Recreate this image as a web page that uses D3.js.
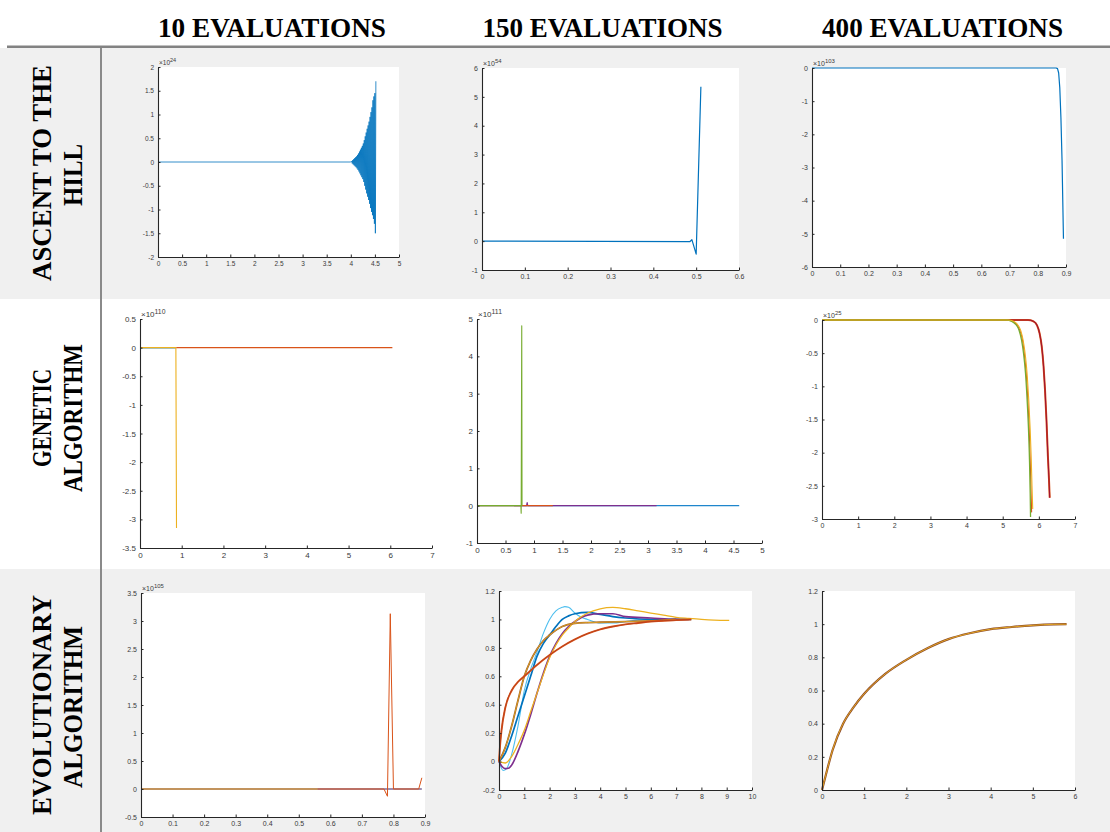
<!DOCTYPE html>
<html>
<head>
<meta charset="utf-8">
<script src="https://cdn.jsdelivr.net/npm/d3@7"></script>
<style>
  body { margin: 0; background: #fff; }
</style>
</head>
<body>
<div id="chart"></div>
<script>
// headers
const colHeaders = ["10 EVALUATIONS", "150 EVALUATIONS", "400 EVALUATIONS"];
const rowHeaders = [["ASCENT TO THE", "HILL"], ["GENETIC", "ALGORITHM"], ["EVOLUTIONARY", "ALGORITHM"]];

// tick values per panel
const ticksHill10X = [0, 0.5, 1, 1.5, 2, 2.5, 3, 3.5, 4, 4.5, 5];
const ticksHill10Y = [-2, -1.5, -1, -0.5, 0, 0.5, 1, 1.5, 2];
const ticksHill150X = [0, 0.1, 0.2, 0.3, 0.4, 0.5, 0.6];
const ticksHill150Y = [-1, 0, 1, 2, 3, 4, 5, 6];
const ticksHill400X = [0, 0.1, 0.2, 0.3, 0.4, 0.5, 0.6, 0.7, 0.8, 0.9];
const ticksHill400Y = [-6, -5, -4, -3, -2, -1, 0];
const ticksGa10X = [0, 1, 2, 3, 4, 5, 6, 7];
const ticksGa10Y = [-3.5, -3, -2.5, -2, -1.5, -1, -0.5, 0, 0.5];
const ticksGa150X = [0, 0.5, 1, 1.5, 2, 2.5, 3, 3.5, 4, 4.5, 5];
const ticksGa150Y = [-1, 0, 1, 2, 3, 4, 5];
const ticksGa400X = [0, 1, 2, 3, 4, 5, 6, 7];
const ticksGa400Y = [-3, -2.5, -2, -1.5, -1, -0.5, 0];
const ticksEa10X = [0, 0.1, 0.2, 0.3, 0.4, 0.5, 0.6, 0.7, 0.8, 0.9];
const ticksEa10Y = [-0.5, 0, 0.5, 1, 1.5, 2, 2.5, 3, 3.5];
const ticksEa150X = [0, 1, 2, 3, 4, 5, 6, 7, 8, 9, 10];
const ticksEa150Y = [-0.2, 0, 0.2, 0.4, 0.6, 0.8, 1, 1.2];
const ticksEa400X = [0, 1, 2, 3, 4, 5, 6];
const ticksEa400Y = [0, 0.2, 0.4, 0.6, 0.8, 1, 1.2];

// ascent to the hill, 10 evaluations (x10^24), oscillation read point by point
const hill10 = [[0, 0], [4.0, 0],
  [4.02, 0.02], [4.03, -0.03], [4.04, 0.04], [4.05, -0.05], [4.06, 0.06],
  [4.07, -0.07], [4.08, 0.08], [4.09, -0.09], [4.10, 0.1], [4.11, -0.11],
  [4.12, 0.12], [4.13, -0.135], [4.14, 0.15], [4.15, -0.165], [4.16, 0.18], [4.17, -0.2],
  [4.18, 0.22], [4.19, -0.24], [4.20, 0.26], [4.21, -0.28], [4.22, 0.3], [4.23, -0.32],
  [4.24, 0.34], [4.25, -0.36], [4.26, 0.39], [4.27, -0.42], [4.28, 0.46], [4.29, -0.5],
  [4.30, 0.54], [4.31, -0.58], [4.32, 0.62], [4.33, -0.66], [4.34, 0.7], [4.35, -0.73],
  [4.36, 0.77], [4.37, -0.8], [4.38, 0.85], [4.39, -0.88], [4.40, 0.95], [4.41, -0.97],
  [4.42, 1.05], [4.43, -1.05], [4.44, 1.15], [4.45, -1.12], [4.46, 1.3], [4.47, -1.2],
  [4.48, 1.38], [4.49, -1.3], [4.50, 1.45], [4.51, -1.5], [4.52, 1.7]];
// 150 evaluations (x10^54)
const hill150 = [[0, 0], [0.485, -0.02], [0.49, 0.05], [0.5, -0.45], [0.511, 5.35]];
// 400 evaluations (x10^103)
const hill400 = [[0, 0], [0.865, 0], [0.87, -0.02], [0.874, -0.15], [0.878, -0.6],
  [0.882, -1.5], [0.886, -2.8], [0.891, -5.15]];

// genetic algorithm, 10 evaluations (x10^110)
const ga10Blue = [[0, -0.01], [0.86, -0.01]];
const ga10Yellow = [[0, 0], [0.86, 0], [0.875, -3.15]];
const ga10Orange = [[0.87, 0], [6.05, 0]];
// 150 evaluations (x10^111)
const ga150Blue = [[0, 0], [4.6, 0]];
const ga150Purple = [[0.65, 0], [0.87, 0], [0.88, 0.08], [0.89, 0], [3.15, 0]];
const ga150Red = [[0, 0], [1.33, 0]];
const ga150Green = [[0, 0], [0.77, 0], [0.775, -0.2], [0.785, 4.82], [0.79, 0]];
// 400 evaluations (x10^25)
const ga400Green = [[0, 0], [5.1, 0], [5.25, -0.02], [5.35, -0.06], [5.45, -0.15], [5.52, -0.3],
  [5.58, -0.52], [5.63, -0.8], [5.67, -1.15], [5.71, -1.6], [5.74, -2.1], [5.76, -2.6], [5.77, -2.97]];
const ga400Orange = [[0, 0], [5.12, 0], [5.27, -0.02], [5.37, -0.06], [5.47, -0.15], [5.55, -0.31],
  [5.6, -0.52], [5.65, -0.8], [5.69, -1.15], [5.73, -1.6], [5.76, -2.1], [5.78, -2.5], [5.8, -2.9]];
const ga400Yellow = [[0, 0], [5.15, 0], [5.3, -0.02], [5.4, -0.06], [5.5, -0.16], [5.57, -0.32],
  [5.63, -0.55], [5.68, -0.85], [5.72, -1.2], [5.76, -1.65], [5.79, -2.1], [5.81, -2.5], [5.83, -2.85]];
const ga400Red = [[0, 0], [5.7, 0], [5.85, -0.02], [5.95, -0.08], [6.02, -0.2], [6.08, -0.4],
  [6.13, -0.7], [6.17, -1.05], [6.21, -1.5], [6.25, -2.05], [6.28, -2.4], [6.3, -2.68]];

// evolutionary algorithm, 10 evaluations (x10^105)
const ea10Purple = [[0, 0], [0.89, 0]];
const ea10Yellow = [[0, 0], [0.56, 0]];
const ea10Red = [[0.56, 0], [0.77, 0], [0.781, -0.13], [0.79, 3.13], [0.8, 0], [0.88, 0], [0.89, 0.2]];
// 150 evaluations
const ea150LightBlue = [[0, 0], [0.08, -0.04], [0.16, -0.063], [0.3, -0.05], [0.5, 0.05], [0.75, 0.25],
  [1, 0.5], [1.25, 0.65], [1.5, 0.77], [1.75, 0.9], [2, 1.0], [2.25, 1.06], [2.5, 1.085], [2.6, 1.09],
  [2.75, 1.085], [3, 1.045], [3.25, 1.015], [3.5, 1.0], [4, 0.975], [4.5, 0.975], [5, 0.985],
  [5.5, 0.995], [6, 1.0], [7, 1.0]];
const ea150Blue = [[0, 0], [0.25, 0.06], [0.5, 0.18], [0.75, 0.32], [1, 0.46], [1.25, 0.6], [1.5, 0.74],
  [1.75, 0.83], [2, 0.89], [2.25, 0.95], [2.5, 1.0], [2.75, 1.025], [3, 1.04], [3.5, 1.05], [4, 1.035],
  [4.5, 1.02], [5, 1.01], [6, 1.0], [7.6, 1.0]];
const ea150Purple = [[0, 0], [0.12, -0.035], [0.25, -0.05], [0.4, -0.045], [0.5, -0.025], [0.75, 0.07],
  [1, 0.19], [1.25, 0.33], [1.5, 0.48], [1.75, 0.62], [2, 0.74], [2.25, 0.83], [2.5, 0.9], [2.75, 0.95],
  [3, 0.985], [3.5, 1.03], [4, 1.04], [4.5, 1.04], [5, 1.02], [6, 1.01], [7, 1.0], [7.5, 1.0]];
const ea150Yellow = [[0, 0], [0.25, -0.01], [0.5, 0.035], [0.75, 0.12], [1, 0.22], [1.25, 0.35],
  [1.5, 0.48], [1.75, 0.61], [2, 0.73], [2.25, 0.82], [2.5, 0.89], [2.75, 0.94], [3, 0.985], [3.5, 1.045],
  [4, 1.075], [4.5, 1.085], [5, 1.075], [5.5, 1.06], [6, 1.045], [6.5, 1.03], [7, 1.015], [7.5, 1.007],
  [8, 1.0], [8.5, 0.995], [9.1, 0.993]];
const ea150Orange = [[0, 0], [0.25, 0.1], [0.5, 0.25], [0.75, 0.43], [1, 0.6], [1.25, 0.71], [1.5, 0.79],
  [1.75, 0.85], [2, 0.89], [2.5, 0.95], [3, 0.972], [3.5, 0.978], [4, 0.98], [5, 0.985], [6, 0.99], [7, 1.0]];
const ea150Red = [[0, 0], [0.05, 0.13], [0.1, 0.22], [0.25, 0.38], [0.5, 0.5], [0.75, 0.56], [1, 0.6],
  [1.5, 0.68], [2, 0.75], [2.5, 0.81], [3, 0.86], [3.5, 0.9], [4, 0.93], [4.5, 0.95], [5, 0.965],
  [5.5, 0.975], [6, 0.985], [7, 0.995], [7.6, 1.0]];
// 400 evaluations
const ea400 = [[0, 0], [0.1, 0.1], [0.25, 0.24], [0.5, 0.4], [0.75, 0.5], [1, 0.58], [1.5, 0.7],
  [2, 0.785], [2.5, 0.855], [3, 0.91], [3.5, 0.945], [4, 0.97], [4.5, 0.983], [5, 0.993], [5.5, 0.999], [5.8, 1.0]];

// matlab default line colours
const C = {blue: "#0072BD", orange: "#D95319", yellow: "#EDB120", purple: "#7E2F8E",
  green: "#77AC30", lightBlue: "#4DBEEE", red: "#A2142F"};

const W = 1110, H = 832;
const svg = d3.select("#chart").append("svg")
  .attr("width", W)
  .attr("height", H);

// row bands of the table
const bands = [[48, 299, "#f0f0f0"], [299, 569, "#ffffff"], [569, 832, "#f0f0f0"]];
svg.selectAll(".band")
  .data(bands)
  .enter()
  .append("rect")
  .attr("class", "band")
  .attr("x", 0)
  .attr("y", d => d[0])
  .attr("width", W)
  .attr("height", d => d[1] - d[0])
  .attr("fill", d => d[2]);

// table rules
svg.append("rect").attr("x", 7).attr("y", 45.5).attr("width", W - 7).attr("height", 2.5).attr("fill", "#828282");
svg.append("rect").attr("x", 100).attr("y", 48).attr("width", 2).attr("height", H - 48).attr("fill", "#8a8a8a");

const serif = "'Liberation Serif', 'Times New Roman', serif";

// column headers (condensed like the original)
const headX = [272, 602.5, 942.5];
const headLen = [228, 240, 241];
svg.selectAll(".colHead")
  .data(colHeaders)
  .enter()
  .append("text")
  .attr("class", "colHead")
  .attr("x", (d, i) => headX[i])
  .attr("y", 37)
  .attr("text-anchor", "middle")
  .attr("font-family", serif)
  .attr("font-weight", "bold")
  .attr("font-size", 27.5)
  .attr("textLength", (d, i) => headLen[i])
  .attr("lengthAdjust", "spacingAndGlyphs")
  .attr("fill", "#000")
  .text(d => d);

// row headers, rotated
const rowMid = [[173, 175], [418, 418], [705, 707]];
const rowLen = [[216, 62], [98, 148], [220, 162]];
rowHeaders.forEach((lines, r) => {
  lines.forEach((t, k) => {
    svg.append("text")
      .attr("transform", `translate(${k === 0 ? 51 : 82},${rowMid[r][k]}) rotate(-90)`)
      .attr("text-anchor", "middle")
      .attr("font-family", serif)
      .attr("font-weight", "bold")
      .attr("font-size", 26.5)
      .attr("textLength", rowLen[r][k])
      .attr("lengthAdjust", "spacingAndGlyphs")
      .attr("fill", "#000")
      .text(t);
  });
});

// panel layout
const panels = [
  {x0: 158, x1: 399, y0: 67, y1: 257, xd: [0, 5], yd: [-2, 2], xt: ticksHill10X, yt: ticksHill10Y, exp: "24", fs: 6.5,
    series: [{d: hill10, c: C.blue, w: 0.8}]},
  {x0: 482, x1: 739, y0: 68, y1: 270, xd: [0, 0.6], yd: [-1, 6], xt: ticksHill150X, yt: ticksHill150Y, exp: "54", fs: 7,
    series: [{d: hill150, c: C.blue, w: 1.2}]},
  {x0: 812, x1: 1066, y0: 68, y1: 267, xd: [0, 0.9], yd: [-6, 0], xt: ticksHill400X, yt: ticksHill400Y, exp: "103", fs: 7,
    series: [{d: hill400, c: C.blue, w: 1.2}]},
  {x0: 140, x1: 432, y0: 319, y1: 548, xd: [0, 7], yd: [-3.5, 0.5], xt: ticksGa10X, yt: ticksGa10Y, exp: "110", fs: 8,
    series: [{d: ga10Blue, c: C.blue, w: 0.6}, {d: ga10Yellow, c: C.yellow, w: 1.1}, {d: ga10Orange, c: C.orange, w: 1.1}]},
  {x0: 477, x1: 762, y0: 319, y1: 543, xd: [0, 5], yd: [-1, 5], xt: ticksGa150X, yt: ticksGa150Y, exp: "111", fs: 8,
    series: [{d: ga150Blue, c: "#1f86cc", w: 1.2}, {d: ga150Purple, c: C.purple, w: 1.2},
      {d: ga150Red, c: C.orange, w: 1.2}, {d: ga150Green, c: C.green, w: 1.1}]},
  {x0: 822, x1: 1075, y0: 320, y1: 519, xd: [0, 7], yd: [-3, 0], xt: ticksGa400X, yt: ticksGa400Y, exp: "25", fs: 7,
    series: [{d: ga400Red, c: C.orange, w: 2, smooth: true}, {d: ga400Red, c: C.red, w: 1.1, smooth: true},
      {d: ga400Orange, c: C.orange, w: 1.1, smooth: true}, {d: ga400Green, c: C.green, w: 1.3, smooth: true},
      {d: ga400Yellow, c: C.yellow, w: 1.1, smooth: true}]},
  {x0: 141, x1: 425, y0: 593, y1: 817, xd: [0, 0.9], yd: [-0.5, 3.5], xt: ticksEa10X, yt: ticksEa10Y, exp: "105", fs: 7,
    series: [{d: ea10Purple, c: "#7d6a9a", w: 1.4}, {d: ea10Yellow, c: "#cf9440", w: 1.4}, {d: ea10Red, c: C.orange, w: 1}]},
  {x0: 499, x1: 752, y0: 591, y1: 790, xd: [0, 10], yd: [-0.2, 1.2], xt: ticksEa150X, yt: ticksEa150Y, exp: null, fs: 7,
    series: [{d: ea150LightBlue, c: C.lightBlue, w: 1.1, smooth: true}, {d: ea150Blue, c: C.blue, w: 1.7, smooth: true},
      {d: ea150Purple, c: C.purple, w: 1.7, smooth: true}, {d: ea150Yellow, c: C.yellow, w: 1.3, smooth: true},
      {d: ea150Orange, c: "#9a5a2a", w: 1.8, smooth: true}, {d: ea150Orange, c: C.yellow, w: 0.8, smooth: true},
      {d: ea150Red, c: C.orange, w: 1.9, smooth: true}, {d: ea150Red, c: "#b8401c", w: 0.9, smooth: true}]},
  {x0: 822, x1: 1075, y0: 591, y1: 790, xd: [0, 6], yd: [0, 1.2], xt: ticksEa400X, yt: ticksEa400Y, exp: null, fs: 7,
    series: [{d: ea400, c: "#8c4a2a", w: 2.2, smooth: true}, {d: ea400, c: C.yellow, w: 0.9, smooth: true}]}
];

const fmt = v => String(+v.toFixed(2));

panels.forEach(p => {
  const g = svg.append("g");
  const x = d3.scaleLinear().domain(p.xd).range([p.x0, p.x1]);
  const y = d3.scaleLinear().domain(p.yd).range([p.y1, p.y0]);

  // axes background
  g.append("rect")
    .attr("x", p.x0)
    .attr("y", p.y0)
    .attr("width", p.x1 - p.x0)
    .attr("height", p.y1 - p.y0)
    .attr("fill", "#fff");

  // lines
  p.series.forEach(s => {
    g.append("path")
      .datum(s.d)
      .attr("fill", "none")
      .attr("stroke", s.c)
      .attr("stroke-width", s.w)
      .attr("stroke-linejoin", "round")
      .attr("d", d3.line()
        .x(d => x(d[0]))
        .y(d => y(d[1]))
        .curve(s.smooth ? d3.curveMonotoneX : d3.curveLinear));
  });

  // x & y axis, matlab style ticks pointing inward
  const xAxis = g.append("g")
    .attr("transform", `translate(0,${p.y1})`)
    .call(d3.axisBottom(x).tickValues(p.xt).tickFormat(fmt).tickSize(-2.5).tickSizeOuter(0).tickPadding(4));
  const yAxis = g.append("g")
    .attr("transform", `translate(${p.x0},0)`)
    .call(d3.axisLeft(y).tickValues(p.yt).tickFormat(fmt).tickSize(-2.5).tickSizeOuter(0).tickPadding(4));

  [xAxis, yAxis].forEach(a => {
    a.attr("color", "#262626")
      .attr("font-family", "'Liberation Sans', Arial, sans-serif")
      .attr("font-size", p.fs);
    a.selectAll("text").attr("fill", "#3a3a3a");
    a.select(".domain").attr("stroke-width", 1.1);
  });

  // exponent label
  if (p.exp) {
    const t = g.append("text")
      .attr("x", p.x0 + 1)
      .attr("y", p.y0 - 2)
      .attr("font-family", "'Liberation Sans', Arial, sans-serif")
      .attr("font-size", p.fs)
      .attr("fill", "#3a3a3a");
    t.append("tspan").text("×10");
    t.append("tspan").attr("dy", -3).attr("font-size", p.fs * 0.85).text(p.exp);
  }
});
</script>
</body>
</html>
